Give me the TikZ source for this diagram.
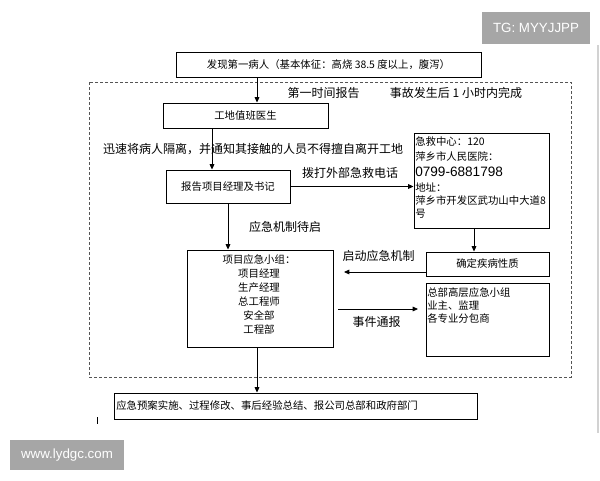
\documentclass[tikz,border=0pt]{standalone}
\usepackage{fontspec}
\setmainfont{Noto Sans CJK SC}
\newfontfamily\latinsans{Liberation Sans}
\usetikzlibrary{arrows.meta}
\definecolor{badgegray}{HTML}{A6A6A6}
\definecolor{dashgray}{HTML}{555555}
\tikzset{
  box/.style={draw=black, line width=0.7pt, inner sep=0pt, font=\fontsize{7.8}{9}\selectfont},
  boxtxt/.style={inner sep=0pt, font=\fontsize{7.8}{9}\selectfont},
  lbl/.style={inner sep=0pt, font=\fontsize{9}{11}\selectfont},
  arr/.style={-{Triangle[length=4pt,width=3.5pt]}, line width=0.6pt},
  conn/.style={line width=0.6pt},
  badge/.style={fill=badgegray, text=white, inner sep=0pt, font=\latinsans\fontsize{10}{12}\selectfont}
}
\begin{document}
\begin{tikzpicture}[x=0.75pt,y=-0.75pt]
\useasboundingbox (0,0) rectangle (600,480);
% page edge line
\draw[gray!35, line width=0.8pt] (598,45) -- (598,433);
% watermarks
\node[badge, minimum width=81pt, minimum height=24pt] (tg) at (536,28) {TG: MYYJJPP};
\node[badge, minimum width=85.5pt, minimum height=22.5pt] (www) at (67,455) {www.lydgc.com};
% dashed frame
\draw[dashgray, line width=0.7pt, dash pattern=on 2.25pt off 1.5pt] (89,82) rectangle (571,377);
% boxes
\node[box, minimum width=228.75pt, minimum height=18.75pt] (top) at (328.5,64.5) {发现第一病人（基本体征：高烧 38.5 度以上，腹泻）};
\node[box, minimum width=123.75pt, minimum height=18.75pt] (doc) at (245.5,115.5) {工地值班医生};
\node[box, minimum width=93pt, minimum height=24.75pt] (rep) at (228,186.5) {报告项目经理及书记};
\node[box, minimum width=101.25pt, minimum height=71.25pt] (info) at (481.5,180.5) {};
\node[box, minimum width=92.25pt, minimum height=18pt] (det) at (487.5,264) {确定疾病性质};
\node[box, minimum width=109.5pt, minimum height=72.75pt] (team) at (260,298.5) {};
\node[box, minimum width=92.25pt, minimum height=54.75pt] (hq) at (487.5,319.5) {};
\node[box, minimum width=272.25pt, minimum height=19.5pt] (bot) at (295.5,406) {};
% box texts
\node[boxtxt, anchor=west] (i1) at (415,142) {急救中心：120};
\node[boxtxt, anchor=west] (i2) at (415,157) {萍乡市人民医院：};
\node[inner sep=0pt, anchor=west, font=\latinsans\fontsize{10.2}{12}\selectfont] (i3) at (415,172) {0799-6881798};
\node[boxtxt, anchor=west] (i4) at (415,187) {地址：};
\node[boxtxt, anchor=west] (i5) at (415,201) {萍乡市开发区武功山中大道8};
\node[boxtxt, anchor=west] (i6) at (415,214) {号};
\node[boxtxt, align=center, font=\fontsize{7.8}{10.5}\selectfont] (tt) at (259,294) {项目应急小组：\\项目经理\\生产经理\\总工程师\\安全部\\工程部};
\node[boxtxt, align=left, anchor=north west, font=\fontsize{7.8}{10}\selectfont] (ht) at (427,287) {总部高层应急小组\\业主、监理\\各专业分包商};
\node[boxtxt, anchor=west] (bt) at (116,406) {应急预案实施、过程修改、事后经验总结、报公司总部和政府部门};
% labels
\node[lbl] (l1) at (323.5,93) {第一时间报告};
\node[lbl] (l2) at (456,93) {事故发生后 1 小时内完成};
\node[lbl] (l3) at (253,149) {迅速将病人隔离，并通知其接触的人员不得擅自离开工地};
\node[lbl] (l4) at (350,173) {拨打外部急救电话};
\node[lbl] (l5) at (285,227) {应急机制待启};
\node[lbl] (l6) at (378.5,256) {启动应急机制};
\node[lbl] (l7) at (376.5,322) {事件通报};
% helper coordinates
\coordinate (x257) at (257,0);
\coordinate (x212) at (212,0);
\coordinate (x228) at (228,0);
\coordinate (x474) at (474,0);
\coordinate (y272) at (0,272);
\coordinate (y309) at (0,309);
\coordinate (e1) at (344,272);
\coordinate (s2) at (338,309);
\coordinate (e2) at (418,309);
% connectors
\draw[arr] (top.south -| x257) -- (doc.north -| x257);
\draw[arr] (doc.south -| x212) -- (rep.north -| x212);
\draw[arr] (rep.east) -- (rep.east -| info.west);
\draw[arr] (info.south -| x474) -- (det.north -| x474);
\draw[arr] (det.west |- y272) -- (e1);
\draw[arr] (rep.south -| x228) -- (team.north -| x228);
\draw[arr] (s2) -- (e2);
\draw[arr] (team.south -| x257) -- (bot.north -| x257);
% stray mark
\draw[line width=0.6pt] (97,417) -- (97,424);
\end{tikzpicture}
\end{document}
